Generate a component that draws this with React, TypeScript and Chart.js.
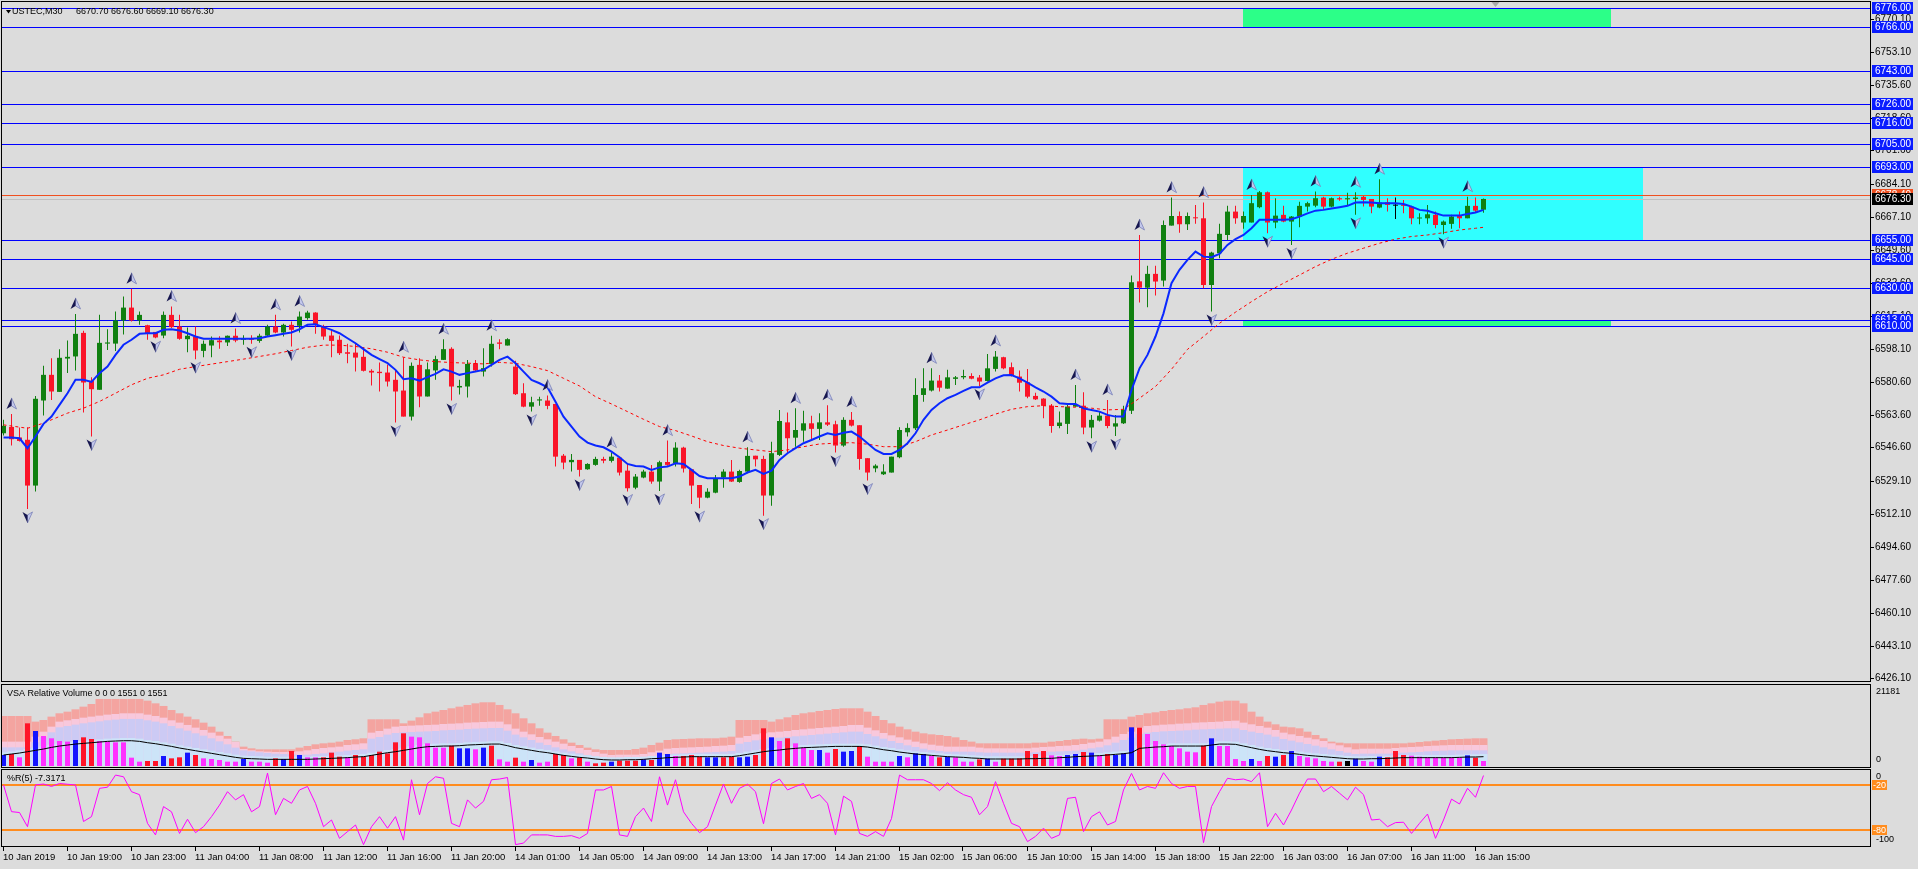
import React, { useEffect, useRef } from "react";
import { Chart, registerables } from "chart.js";

Chart.register(...registerables);

// ---------------- data ----------------
const opens = [6554.0,6557.3,6551.8,6550.6,6526.7,6571.1,6584.5,6575.6,6593.0,6594.1,
6606.4,6581.4,6576.7,6600.8,6600.8,6612.9,6619.6,6612.9,6610.4,6606.9,
6605.0,6615.8,6609.7,6603.1,6604.5,6597.0,6599.8,6602.4,6601.4,6604.9,
6602.8,6603.6,6602.2,6605.0,6609.7,6606.6,6610.6,6610.1,6614.1,6617.0,
6609.7,6605.0,6602.8,6596.3,6596.1,6593.9,6586.6,6586.1,6585.7,6581.9,
6576.3,6562.7,6589.7,6573.2,6586.8,6592.3,6598.1,6577.9,6578.4,6590.6,
6586.2,6590.2,6601.4,6599.8,6588.8,6574.9,6567.9,6571.1,6571.1,6569.3,
6542.3,6538.9,6540.1,6535.2,6537.5,6540.6,6539.6,6541.3,6534.5,6525.6,
6530.9,6534.0,6528.8,6539.0,6538.3,6546.5,6535.2,6527.0,6520.4,6523.0,
6530.9,6534.0,6528.6,6534.0,6542.3,6540.6,6521.5,6542.7,6559.7,6551.7,
6555.4,6559.2,6556.3,6559.7,6558.7,6547.6,6561.0,6558.2,6541.0,6535.7,
6532.6,6533.5,6541.5,6554.5,6556.6,6574.0,6576.3,6581.5,6577.3,6582.4,
6583.2,6583.9,6583.1,6581.3,6587.6,6593.7,6588.5,6583.6,6580.6,6573.5,
6572.1,6568.4,6557.8,6558.9,6567.9,6568.4,6557.0,6560.6,6563.2,6557.5,
6559.2,6565.8,6633.3,6630.0,6637.2,6633.7,6662.4,6667.4,6663.1,6666.7,
6666.2,6631.4,6648.0,6657.5,6669.7,6664.0,6664.0,6672.0,6679.8,6664.0,
6668.0,6664.5,6667.1,6672.3,6672.8,6677.0,6672.3,6676.7,6676.1,6676.3,
6677.4,6676.3,6671.8,6674.6,6672.8,6673.2,6672.3,6666.1,6666.2,6668.0,
6662.7,6663.3,6667.4,6666.2,6672.7,6670.7];

const highs = [6561.0,6564.1,6557.0,6557.2,6573.5,6589.2,6593.2,6597.9,6602.4,6616.3,
6607.5,6583.3,6615.8,6608.3,6617.6,6625.4,6629.4,6617.6,6610.6,6606.9,
6617.6,6620.2,6615.8,6609.2,6609.7,6602.4,6604.5,6604.7,6605.0,6608.7,
6605.2,6605.2,6605.9,6610.6,6615.8,6611.1,6612.3,6617.6,6617.9,6617.2,
6610.6,6608.0,6605.0,6600.7,6600.7,6598.4,6587.4,6590.9,6589.7,6587.1,
6593.7,6590.9,6593.2,6590.9,6594.4,6603.1,6598.9,6581.9,6592.3,6592.3,
6598.4,6604.9,6603.1,6603.6,6591.9,6580.1,6573.1,6573.1,6573.7,6569.3,
6543.2,6543.2,6540.1,6538.3,6541.8,6541.8,6543.9,6541.3,6538.3,6532.8,
6534.9,6537.5,6539.7,6550.2,6549.3,6547.0,6535.2,6527.0,6525.3,6532.2,
6535.2,6540.1,6534.9,6546.7,6542.3,6542.3,6549.6,6566.2,6564.8,6567.0,
6565.8,6563.2,6564.4,6568.6,6560.6,6562.4,6565.1,6558.2,6541.0,6537.8,
6537.8,6541.8,6557.1,6559.2,6582.7,6587.9,6587.9,6584.4,6587.1,6583.9,
6587.1,6585.3,6584.4,6595.4,6597.0,6594.0,6590.9,6586.7,6587.6,6575.2,
6572.3,6569.3,6565.3,6568.8,6579.2,6575.4,6563.6,6565.3,6571.4,6563.6,
6568.4,6636.3,6657.5,6641.4,6641.5,6665.0,6677.0,6669.7,6669.2,6673.2,
6674.4,6648.8,6663.3,6672.7,6672.7,6669.7,6678.4,6680.5,6680.2,6676.7,
6672.7,6667.4,6674.9,6674.9,6680.2,6677.5,6677.0,6677.5,6679.6,6679.8,
6677.9,6676.3,6686.6,6676.7,6677.0,6675.8,6672.7,6668.8,6673.2,6669.7,
6665.0,6668.0,6669.7,6677.5,6677.0,6676.6];

const lows = [6552.8,6547.6,6549.7,6514.5,6523.6,6563.3,6571.4,6575.6,6585.4,6586.8,
6564.8,6552.3,6576.7,6597.5,6597.0,6605.5,6612.3,6610.6,6602.8,6603.6,
6603.6,6608.9,6602.8,6596.3,6592.7,6593.7,6593.7,6598.1,6599.6,6601.5,
6600.2,6600.7,6601.2,6604.5,6606.2,6604.5,6599.3,6606.6,6613.2,6605.9,
6602.8,6593.7,6594.8,6590.6,6586.2,6586.2,6578.9,6575.8,6578.4,6559.6,
6562.7,6560.7,6567.6,6573.2,6581.9,6592.3,6571.1,6574.2,6572.7,6586.2,
6583.6,6588.8,6597.9,6599.8,6574.0,6567.6,6565.3,6568.3,6566.5,6536.6,
6535.2,6534.0,6531.4,6534.9,6537.1,6538.3,6538.7,6531.9,6523.6,6524.8,
6530.5,6527.6,6523.9,6537.0,6536.6,6533.5,6517.1,6514.9,6520.1,6522.7,
6525.6,6528.6,6528.2,6533.1,6536.6,6511.0,6516.2,6542.2,6543.6,6547.0,
6549.6,6550.5,6550.5,6557.8,6543.9,6547.0,6557.5,6534.9,6529.3,6533.6,
6532.2,6533.5,6541.0,6552.3,6555.7,6570.5,6575.8,6575.8,6577.3,6579.2,
6582.2,6582.2,6578.7,6581.0,6586.2,6587.4,6583.6,6575.8,6572.3,6571.4,
6561.8,6554.3,6556.6,6553.6,6567.9,6553.5,6551.4,6560.1,6556.6,6552.6,
6558.9,6564.1,6622.2,6619.8,6625.9,6630.6,6662.4,6658.7,6660.1,6663.3,
6629.7,6617.5,6645.3,6654.9,6663.3,6660.7,6664.0,6671.5,6658.4,6661.0,
6664.1,6652.3,6661.5,6669.7,6672.0,6670.9,6672.0,6675.4,6673.2,6668.0,
6672.3,6668.8,6671.5,6669.7,6665.9,6668.8,6663.1,6663.1,6663.3,6661.0,
6657.9,6660.7,6661.0,6666.2,6669.2,6669.1];

const closes = [6557.9,6550.9,6550.0,6526.7,6572.0,6584.5,6575.8,6593.4,6593.9,6605.9,
6580.5,6577.0,6601.2,6601.4,6612.9,6619.6,6612.9,6615.8,6606.2,6604.0,
6615.8,6609.4,6603.3,6604.9,6597.2,6600.7,6602.6,6601.5,6604.9,6602.4,
6603.6,6602.8,6604.9,6609.7,6606.6,6610.6,6608.0,6614.9,6617.0,6610.6,
6604.5,6602.2,6595.8,6595.5,6593.5,6586.6,6585.7,6585.4,6581.0,6575.8,
6562.7,6589.2,6573.2,6587.4,6592.7,6597.9,6578.4,6578.7,6590.2,6586.8,
6588.0,6600.7,6600.7,6603.1,6574.4,6567.9,6570.2,6571.7,6568.3,6541.8,
6538.7,6540.1,6534.9,6538.0,6540.6,6539.7,6541.8,6533.5,6525.3,6531.4,
6534.0,6528.8,6538.9,6537.5,6546.5,6535.6,6526.7,6520.4,6523.5,6530.5,
6534.0,6528.8,6534.3,6542.2,6540.4,6521.5,6543.6,6560.4,6551.4,6555.7,
6559.2,6556.3,6559.7,6558.5,6547.6,6561.0,6558.0,6540.6,6533.5,6537.1,
6534.0,6541.8,6555.7,6556.8,6574.0,6577.5,6581.5,6577.8,6583.2,6583.2,
6583.9,6582.5,6581.0,6587.9,6594.0,6587.9,6584.1,6580.4,6573.1,6571.7,
6568.3,6557.8,6559.6,6567.9,6568.8,6557.0,6561.0,6563.2,6557.8,6559.2,
6566.2,6632.8,6630.0,6637.2,6633.2,6662.7,6667.4,6663.1,6667.4,6666.2,
6631.4,6648.3,6658.1,6669.7,6666.2,6667.4,6674.1,6679.8,6664.0,6667.6,
6664.5,6667.1,6672.7,6674.1,6676.7,6672.3,6676.7,6676.1,6676.7,6677.0,
6675.8,6672.3,6674.4,6673.2,6672.8,6672.7,6666.2,6666.6,6668.3,6662.7,
6664.5,6667.1,6666.2,6672.7,6670.2,6676.3];

const fastMa = [6551.8,6551.8,6551.4,6546.2,6552.3,6558.9,6562.7,6568.8,6574.9,6581.9,
6581.9,6580.8,6585.4,6588.8,6594.9,6600.2,6602.8,6605.9,6606.2,6606.2,
6608.0,6608.3,6607.6,6606.2,6604.5,6603.3,6603.3,6603.3,6603.3,6603.3,
6603.3,6603.3,6603.6,6604.5,6605.2,6605.9,6606.6,6608.3,6610.6,6610.9,
6609.4,6608.0,6606.2,6603.6,6601.0,6597.9,6594.9,6592.7,6590.6,6587.1,
6582.2,6582.7,6581.5,6583.3,6585.0,6587.4,6586.2,6584.5,6585.4,6586.2,
6587.1,6589.7,6592.3,6594.0,6590.5,6586.2,6581.8,6580.1,6578.0,6570.5,
6562.7,6557.5,6552.3,6549.1,6547.6,6546.7,6544.4,6541.5,6538.0,6536.9,
6536.6,6534.9,6536.2,6536.6,6538.3,6538.0,6534.9,6531.7,6530.5,6530.5,
6530.5,6530.5,6531.4,6533.5,6534.9,6532.8,6534.5,6540.1,6543.6,6546.2,
6548.8,6550.5,6552.3,6554.0,6553.1,6554.3,6554.9,6552.3,6548.8,6545.3,
6543.2,6543.2,6545.3,6548.8,6554.0,6561.0,6566.2,6569.7,6572.3,6574.0,
6576.1,6578.0,6578.0,6580.4,6582.7,6584.3,6584.4,6582.7,6580.4,6578.0,
6575.8,6573.1,6569.7,6569.3,6569.3,6567.0,6566.2,6565.3,6563.6,6562.7,
6562.7,6576.6,6587.9,6594.9,6604.5,6616.6,6632.3,6639.3,6644.5,6648.8,
6646.2,6645.9,6647.6,6652.3,6655.3,6657.5,6661.0,6665.4,6665.4,6665.4,
6665.4,6665.7,6667.1,6668.8,6670.2,6670.6,6671.3,6672.0,6672.7,6674.4,
6674.6,6674.4,6674.1,6674.1,6674.1,6673.7,6672.3,6670.6,6670.1,6668.8,
6667.6,6667.6,6667.6,6668.5,6669.2,6670.6];

// slow (dashed) moving average read at every second bar: [bar, price]
const slowMa = [[0,6558.4],[3,6556.6],[5,6559.3],[8,6564.5],[10,6567.1],[12,6570.6],[14,6574.9],[16,6579.3],[18,6582.7],[20,6584.5],
[22,6587.4],[24,6588.8],[26,6590.1],[28,6591.4],[30,6592.7],[32,6594.1],[34,6595.5],[36,6597.2],[38,6598.9],[40,6600.0],
[42,6600.0],[44,6599.3],[46,6598.1],[48,6596.3],[50,6593.7],[52,6592.3],[54,6591.4],[56,6590.9],[58,6590.6],[60,6590.2],
[62,6591.0],[64,6590.5],[66,6588.8],[68,6586.7],[70,6582.7],[72,6578.7],[74,6573.1],[76,6569.3],[78,6565.3],[80,6561.3],
[82,6557.5],[84,6555.4],[86,6552.6],[88,6549.6],[90,6547.6],[92,6546.2],[94,6545.3],[96,6544.4],[98,6545.3],[100,6547.0],
[102,6548.4],[104,6548.8],[106,6549.1],[108,6548.3],[110,6547.0],[112,6547.0],[114,6549.6],[116,6553.1],[118,6555.7],[120,6558.4],
[122,6561.0],[124,6564.0],[126,6566.5],[128,6567.9],[130,6568.4],[132,6567.9],[134,6567.6],[136,6567.1],[138,6566.2],[140,6566.5],
[142,6572.3],[144,6578.4],[146,6587.4],[148,6597.8],[150,6604.5],[152,6611.4],[154,6617.2],[156,6622.7],[158,6627.9],[160,6632.3],
[162,6636.6],[164,6641.0],[166,6644.8],[168,6648.0],[170,6650.6],[172,6653.2],[174,6655.3],[176,6656.7],[178,6657.5],[180,6658.7],
[182,6660.1],[184,6661.0],[185,6661.5]];

const fractalUpBars = [1,9,16,21,29,34,37,50,55,61,68,76,83,93,99,103,106,116,124,134,138,142,146,150,156,164,169,172,183];
const fractalDownBars = [3,11,19,24,31,36,49,56,66,72,78,82,87,95,104,108,122,136,139,151,158,161,169,180];

const hLevels = [6776, 6766, 6743, 6726, 6716, 6705, 6693, 6655, 6645, 6630, 6613, 6610];
const bidPrice = 6676.3;
const askPrice = 6678.4;
// zones: [fromBar, toBar, upperPrice, lowerPrice]
const zoneGreenTop = [155, 201, 6776, 6766];
const zoneCyan = [155, 205, 6693, 6655];
const zoneGreenBottom = [155, 201, 6613, 6610];

const priceTicks = [6770.1,6753.1,6735.6,6718.6,6701.6,6684.1,6667.1,6649.6,6632.6,6615.1,6598.1,6580.6,6563.6,6546.6,6529.1,6512.1,6494.6,6477.6,6460.1,6443.1,6426.1];

const timeTickBars = [0,8,16,24,32,40,48,56,64,72,80,88,96,104,112,120,128,136,144,152,160,168,176,184];
const timeLabels = ["10 Jan 2019","10 Jan 19:00","10 Jan 23:00","11 Jan 04:00","11 Jan 08:00","11 Jan 12:00","11 Jan 16:00","11 Jan 20:00",
"14 Jan 01:00","14 Jan 05:00","14 Jan 09:00","14 Jan 13:00","14 Jan 17:00","14 Jan 21:00","15 Jan 02:00","15 Jan 06:00",
"15 Jan 10:00","15 Jan 14:00","15 Jan 18:00","15 Jan 22:00","16 Jan 03:00","16 Jan 07:00","16 Jan 11:00","16 Jan 15:00"];

const volumes = [2880,3140,2270,11160,9160,7850,7240,6540,6370,6800,
7500,7060,6540,6370,6190,6190,2180,1130,1310,1310,
2620,2000,2270,3490,2880,2000,1830,1570,1130,1130,
1830,1130,1130,870,2000,1830,3920,2880,2270,2270,
2270,3490,2440,2270,2880,2440,2880,3750,3310,6190,
8550,7670,7500,5930,4800,4800,5320,4620,4620,4360,
4800,5320,1740,1130,2180,1130,1570,870,1130,3140,
2880,2000,2270,1130,700,870,1130,1400,1400,1400,
1740,1570,3490,3140,2620,2620,2880,2440,2270,2270,
2270,2440,2270,2440,2880,9850,7500,6540,7240,5930,
4800,4190,4190,3490,4450,3750,3920,5230,2440,1130,
1130,1130,2620,2270,3310,3140,2620,2270,2440,2270,
1130,1130,1740,1920,1130,1920,1920,2000,3920,3140,
3920,2790,2620,2880,3140,3660,3490,2620,3140,2880,
3310,10120,10030,8370,6540,5670,5230,4620,3750,3580,
5320,7240,5230,5230,1830,1310,1830,1310,2620,2440,
2880,3920,2620,2270,2000,1310,1130,1130,1310,1920,
1310,1130,2440,2270,3920,2880,2700,2440,2270,2180,
2180,2270,2180,2790,2180,1310];

const volKinds = ("brmrbmmmmb" + "rrmmmmmmrr" + "brrbrmmmmm" + "bmmmrbrbmm" + "rrrmrrrrrr" +
  "rmmmmmrbbm" + "brmmrmbmmr" + "rmrmrrbrrr" + "brbbmrrrbb" + "rrbbrrbmrm" +
  "mmbmrbbrmm" + "mmbmbbmrbm" + "mmrbmrrrrr" + "rmmbbrbmrb" + "bbrmmmmmmm" +
  "rbmmmmbmrb" + "rbmmmmmrkb" + "mmbrrrmmmm" + "mmmbrm").split("");

const volAvg = [2870,3130,3390,3740,4090,4440,4870,5220,5480,5740,
5920,6090,6260,6440,6530,6610,6610,6440,6090,5830,
5480,5130,4700,4350,4000,3650,3310,2960,2610,2260,
2000,1910,1830,1740,1740,1740,1740,1740,1740,1830,
1910,2000,2090,2180,2350,2440,2780,3130,3480,3740,
4090,4440,4790,5050,5130,5220,5220,5310,5480,5570,
5660,5740,5740,5310,4790,4440,4090,3740,3480,3130,
2780,2520,2260,2090,1830,1650,1570,1570,1650,1650,
1740,1910,2000,2180,2260,2350,2440,2440,2440,2440,
2440,2440,2700,3050,3390,3740,4000,4180,4440,4610,
4790,4870,4960,5050,5130,5130,5130,5130,4960,4610,
4260,4000,3650,3390,3130,2960,2780,2610,2440,2350,
2260,2090,2000,1830,1830,1830,1830,1830,1910,1910,
2000,2000,2180,2260,2440,2520,2610,2700,2870,3050,
3220,3480,4610,4790,4960,5050,5220,5220,5220,5220,
5220,5480,5740,5740,5660,5220,4790,4350,4000,3740,
3480,3310,3050,2780,2610,2440,2260,2090,1910,1830,
1830,1910,1910,2000,2090,2180,2180,2180,2180,2180,
2180,2180,2260,2350,2350,2440];

const bandCyan = [3570,3830,4090,4440,4790,5140,5570,5920,6180,6440,
6620,6790,6960,7140,7230,7310,7310,7140,6790,6530,
6180,5830,5400,5050,4700,4350,4010,3660,3310,2960,
2700,2610,2530,2440,2440,2440,2440,2440,2440,2530,
2610,2700,2790,2880,3050,3140,3480,3830,4180,4440,
4790,5140,5490,5750,5830,5920,5920,6010,6180,6270,
6360,6440,6440,6010,5490,5140,4790,4440,4180,3830,
3480,3220,2960,2790,2530,2350,2270,2270,2350,2350,
2440,2610,2700,2880,2960,3050,3140,3140,3140,3140,
3140,3140,3400,3750,4090,4440,4700,4880,5140,5310,
5490,5570,5660,5750,5830,5830,5830,5830,5660,5310,
4960,4700,4350,4090,3830,3660,3480,3310,3140,3050,
2960,2790,2700,2530,2530,2530,2530,2530,2610,2610,
2700,2700,2880,2960,3140,3220,3310,3400,3570,3750,
3920,4180,5310,5490,5660,5750,5920,5920,5920,5920,
5920,6180,6440,6440,6360,5920,5490,5050,4700,4440,
4180,4010,3750,3480,3310,3140,2960,2790,2610,2530,
2530,2610,2610,2700,2790,2880,2880,2880,2880,2880,
2880,2880,2960,3050,3050,3140];

const bandLavender = [4880,4880,4880,4880,6190,7500,8810,10120,10460,10810,
11160,11420,11680,11950,12120,12300,12300,12300,11950,11600,
11160,10460,9850,9240,8550,7940,7240,6450,5670,4800,
4100,3840,3580,3400,3230,3140,3050,2960,2960,3140,
3310,3580,3750,4010,4190,4360,7150,7590,8200,8630,
8810,8890,8980,9070,9160,9330,9420,9500,9680,9770,
9850,9940,9940,9240,8200,7500,6800,6100,5490,4880,
4360,3840,3310,2880,2440,2090,1830,1920,1920,1920,
2010,2350,2700,3140,3230,3310,3400,3490,3580,3660,
3750,3920,5840,6280,6710,6980,7240,7410,7590,7760,
7940,8110,8280,8460,8630,8810,8980,8980,8370,7760,
7150,6540,6020,5410,4970,4530,4190,3920,3750,3750,
3750,3750,3580,3490,3490,3490,3490,3490,3490,3580,
3660,3750,3840,3920,4010,4270,4620,4880,5410,6100,
6800,7410,8370,8720,8890,9070,9160,9240,9330,9500,
9590,9680,9770,9850,9850,9420,8980,8630,8200,7670,
7060,6630,6190,5760,5320,4880,4360,3920,3490,3140,
3230,3230,3230,3230,3400,3490,3580,3660,3840,3920,
4010,4100,4100,4100,4100,4100];

const bandPink = [6370,6370,6370,6370,7670,8980,10290,11600,11950,12300,
12640,12910,13170,13430,13600,13780,13780,13780,13430,13080,
12640,11950,11340,10730,10030,9420,8720,7940,7150,6280,
4450,4100,3840,3750,3660,3660,3660,3840,4100,4450,
4710,4880,5060,5490,5670,5930,8720,9160,9770,10290,
10460,10550,10640,10730,10810,10990,11070,11160,11340,11420,
11510,11600,11600,10900,9770,8980,8280,7590,6980,6370,
5840,5230,4710,4190,3660,3230,2880,2960,2960,2960,
3140,3580,4010,4530,4710,4800,4880,4970,5060,5230,
5320,5490,7410,7850,8280,8550,8810,8980,9160,9420,
9590,9770,9940,10120,10290,10460,10730,10730,10030,9330,
8630,8020,7500,6890,6370,5930,5580,5320,5060,5060,
5060,5060,4800,4620,4620,4620,4620,4620,4620,4800,
4970,5060,5230,5320,5490,5760,6100,6370,6980,7670,
8370,8980,10030,10460,10640,10810,10900,11070,11160,11340,
11420,11510,11600,11770,11860,11340,10900,10460,10030,9420,
8720,8280,7850,7410,6980,6540,5930,5410,4880,4360,
4530,4530,4530,4530,4710,4880,4970,5060,5230,5320,
5410,5490,5490,5490,5490,5490];

const bandSalmon = [13080,13080,13080,13080,11600,12030,12910,13780,14210,14820,
15520,16220,17530,17530,17530,17530,17530,17530,17090,16390,
15700,14650,13780,12910,12210,11340,10290,8980,7850,6370,
5060,4620,4360,4360,4360,4360,4360,4800,5230,5670,
5930,6100,6370,6800,6980,7240,12210,12210,12210,12210,
11160,11860,12730,13780,14210,14650,15090,15520,15960,16390,
16660,16660,15960,14820,13780,12470,11160,9850,8720,7850,
6980,6100,5490,4800,4360,4190,4190,4190,4190,4450,
4800,5490,6100,6800,6980,7060,7150,7240,7240,7240,
7410,7670,12030,12030,12030,12030,11600,12210,12730,13340,
13780,14040,14390,14650,14910,15090,15090,15090,14210,13080,
12030,11160,10290,9590,8980,8550,8280,8110,7850,7500,
6800,6370,5930,5930,5930,5930,5930,5930,5930,6100,
6100,6370,6540,6800,6980,7150,6980,7150,12210,12210,
12210,12910,13340,13780,14040,14390,14650,14820,15090,15350,
15960,16390,16830,17090,17090,16390,14210,12910,11600,10900,
10290,10120,9850,8980,8110,7240,6370,6100,5930,5930,
5930,5930,5930,5930,5930,5930,6100,6280,6450,6630,
6800,6980,7060,7150,7240,7240];

const volMaxLabel = 21181;

const wpr = [-20,-55.8,-57,-76,-20,-18.7,-22,-18,-19,-20,
-69,-62.5,-24.5,-23,-6.7,-9,-29,-33,-71.5,-87,
-49,-56,-85,-66,-84,-76,-62.5,-47,-29,-40,
-33,-56,-49,-4,-60,-38,-44.6,-26.7,-22,-44.6,
-76,-67,-91.6,-82.6,-73.7,-100,-76,-62.5,-78,-62.5,
-94,-13,-60,-18,-9,-11,-71.5,-76,-40,-51,
-42,-13,-12,-10,-100,-98,-87,-87,-87,-89,
-89,-88,-91.6,-85,-26.7,-26.7,-22,-87,-89,-62.5,
-51,-69,-9,-47,-13,-56,-71.5,-84,-76,-47,
-18.7,-44.6,-24.5,-19,-29,-72,-18,-12,-26.7,-22,
-18,-38,-33,-44.6,-87,-35,-42,-85,-89,-82.6,
-89,-65,-6.7,-13,-13,-13,-18,-27.6,-17,-26.7,
-33,-36.5,-60,-49,-15.5,-44.6,-71.5,-76,-96,-89,
-78,-91.6,-87,-38,-36.5,-82.6,-62.5,-56,-73.7,-69,
-26.7,-4.5,-26.7,-22,-24.5,-3.6,-18,-24.5,-22,-22,
-97.4,-49,-29,-11,-13,-12,-15.5,-3.6,-76,-58,
-73.7,-53.6,-31,-12,-12,-29,-22,-31,-40,-23,
-33,-67,-66,-76,-70.5,-70,-85,-71.5,-59,-91.6,
-67,-39,-45.5,-24.5,-36.5,-7.3171];
const wprLevels = [-20, -80];

// ---------------- styling / layout ----------------
const W = 1918;
const H = 869;
const BG = "#dcdcdc";
const UI_FONT = '"Liberation Sans", Arial, sans-serif';
const BULL = "#108010";
const BEAR = "#fa1428";
const X_MIN = -0.1875;
const X_MAX = X_MIN + 1868 / 8;
const AXIS_W = 48;

const bars = opens.map((_, i) => i);
const candleColor = (i: number) => (closes[i] > opens[i] ? BULL : closes[i] < opens[i] ? BEAR : "#000000");
const volColorMap: Record<string, string> = { b: "#1414ff", r: "#ff1428", m: "#ff30ff", k: "#000000" };

function xScaleOpts() {
  return {
    type: "linear",
    display: false,
    min: X_MIN,
    max: X_MAX,
    offset: false,
    afterBuildTicks: (s: any) => {
      s.ticks = timeTickBars.map((v) => ({ value: v }));
    },
  };
}

function drawFrame(ctx: CanvasRenderingContext2D, a: any) {
  ctx.save();
  ctx.strokeStyle = "#000";
  ctx.lineWidth = 1;
  ctx.strokeRect(a.left - 0.5, a.top - 0.5, a.right - a.left + 1, a.bottom - a.top + 1);
  ctx.restore();
}

function drawFractal(ctx: CanvasRenderingContext2D, cx: number, cy: number, up: boolean) {
  ctx.save();
  ctx.translate(cx, cy);
  ctx.scale(1, up ? 1 : -1);
  ctx.beginPath();
  ctx.moveTo(0, -6);
  ctx.lineTo(5, 5);
  ctx.lineTo(0, 2);
  ctx.closePath();
  ctx.fillStyle = "#c4c8ec";
  ctx.fill();
  ctx.strokeStyle = "#7880b8";
  ctx.lineWidth = 0.8;
  ctx.stroke();
  ctx.beginPath();
  ctx.moveTo(0, -6);
  ctx.lineTo(-5, 5);
  ctx.lineTo(0, 2);
  ctx.closePath();
  ctx.fillStyle = "#16164f";
  ctx.fill();
  ctx.restore();
}

function labelBox(ctx: CanvasRenderingContext2D, x: number, py: number, text: string, bg: string, fg: string, w: number) {
  ctx.fillStyle = bg;
  ctx.fillRect(x, py - 6, w, 12);
  ctx.fillStyle = fg;
  ctx.fillText(text, x + 3, py + 0.5);
}

const mainPlugin = {
  id: "mainDeco",
  beforeDatasetsDraw(chart: any) {
    const { ctx, chartArea: a, scales } = chart;
    const x = scales.x;
    const y = scales.y;
    ctx.save();
    ctx.beginPath();
    ctx.rect(a.left, a.top, a.right - a.left, a.bottom - a.top);
    ctx.clip();
    const zone = (z: number[], color: string) => {
      const x0 = Math.floor(x.getPixelForValue(z[0]));
      const x1 = Math.floor(x.getPixelForValue(z[1]));
      const y0 = Math.round(y.getPixelForValue(z[2]));
      const y1 = Math.round(y.getPixelForValue(z[3]));
      ctx.fillStyle = color;
      ctx.fillRect(x0, y0, x1 - x0, y1 - y0);
    };
    zone(zoneGreenTop, "#2cff88");
    zone(zoneCyan, "#30ffff");
    zone(zoneGreenBottom, "#2cff88");
    ctx.lineWidth = 1;
    const hl = (v: number, c: string) => {
      const py = Math.round(y.getPixelForValue(v)) + 0.5;
      ctx.strokeStyle = c;
      ctx.beginPath();
      ctx.moveTo(a.left, py);
      ctx.lineTo(a.right, py);
      ctx.stroke();
    };
    hl(bidPrice, "#c0c0c0");
    hl(askPrice, "#f05020");
    hLevels.forEach((v) => hl(v, "#0000ff"));
    ctx.restore();
  },
  afterDatasetsDraw(chart: any) {
    const { ctx, chartArea: a, scales } = chart;
    const x = scales.x;
    const y = scales.y;
    ctx.save();
    ctx.beginPath();
    ctx.rect(a.left, a.top, a.right - a.left, a.bottom - a.top);
    ctx.clip();
    fractalUpBars.forEach((b) => drawFractal(ctx, x.getPixelForValue(b), y.getPixelForValue(highs[b]) - 10, true));
    fractalDownBars.forEach((b) => drawFractal(ctx, x.getPixelForValue(b), y.getPixelForValue(lows[b]) + 8, false));
    ctx.restore();
  },
  afterDraw(chart: any) {
    const { ctx, chartArea: a, scales } = chart;
    const y = scales.y;
    drawFrame(ctx, a);
    ctx.save();
    ctx.font = "10px " + UI_FONT;
    ctx.textAlign = "left";
    ctx.textBaseline = "middle";
    ctx.strokeStyle = "#000";
    ctx.lineWidth = 1;
    ctx.fillStyle = "#000";
    priceTicks.forEach((t) => {
      const py = Math.round(y.getPixelForValue(t)) + 0.5;
      ctx.beginPath();
      ctx.moveTo(a.right, py);
      ctx.lineTo(a.right + 4, py);
      ctx.stroke();
      ctx.fillText(t.toFixed(2), a.right + 5, py);
    });
    hLevels.forEach((v) => labelBox(ctx, a.right + 2, Math.round(y.getPixelForValue(v)), v.toFixed(2), "#0a1cff", "#ffffff", 41));
    labelBox(ctx, a.right + 2, Math.round(y.getPixelForValue(askPrice)), askPrice.toFixed(2), "#f05020", "#ffffff", 41);
    labelBox(ctx, a.right + 2, Math.round(y.getPixelForValue(bidPrice)), bidPrice.toFixed(2), "#000000", "#ffffff", 41);
    // header
    ctx.fillStyle = "#000";
    ctx.beginPath();
    ctx.moveTo(6, 10);
    ctx.lineTo(11, 10);
    ctx.lineTo(8.5, 13.5);
    ctx.closePath();
    ctx.fill();
    ctx.font = "9px " + UI_FONT;
    ctx.fillText("USTEC,M30", 12, 12);
    ctx.fillText(
      [opens[opens.length - 1], highs[highs.length - 1], lows[lows.length - 1], closes[closes.length - 1]].map((v) => v.toFixed(2)).join(" "),
      76,
      12
    );
    // chart shift marker
    const sx = scales.x.getPixelForValue(186.5);
    ctx.fillStyle = "#a8a8a8";
    ctx.beginPath();
    ctx.moveTo(sx - 4, a.top);
    ctx.lineTo(sx + 4, a.top);
    ctx.lineTo(sx, a.top + 5);
    ctx.closePath();
    ctx.fill();
    ctx.restore();
  },
};

const volPlugin = {
  id: "volDeco",
  afterDraw(chart: any) {
    const { ctx, chartArea: a, scales } = chart;
    const y = scales.y;
    drawFrame(ctx, a);
    ctx.save();
    ctx.font = "9px " + UI_FONT;
    ctx.textBaseline = "middle";
    ctx.textAlign = "left";
    ctx.fillStyle = "#000";
    ctx.fillText("VSA Relative Volume 0 0 0 1551 0 1551", 7, a.top + 9);
    ctx.fillText(String(volMaxLabel), a.right + 6, y.getPixelForValue(volMaxLabel) + 7);
    ctx.fillText("0", a.right + 6, y.getPixelForValue(0) - 6);
    ctx.restore();
  },
};

const wprPlugin = {
  id: "wprDeco",
  beforeDatasetsDraw(chart: any) {
    const { ctx, chartArea: a, scales } = chart;
    const y = scales.y;
    ctx.save();
    ctx.strokeStyle = "#ff8c1e";
    ctx.lineWidth = 2;
    wprLevels.forEach((v) => {
      const py = Math.round(y.getPixelForValue(v));
      ctx.beginPath();
      ctx.moveTo(a.left, py);
      ctx.lineTo(a.right, py);
      ctx.stroke();
    });
    ctx.restore();
  },
  afterDraw(chart: any) {
    const { ctx, chartArea: a, scales } = chart;
    const x = scales.x;
    const y = scales.y;
    drawFrame(ctx, a);
    ctx.save();
    ctx.font = "9px " + UI_FONT;
    ctx.textBaseline = "middle";
    ctx.textAlign = "left";
    ctx.fillStyle = "#000";
    ctx.fillText("%R(5) " + wpr[wpr.length - 1].toFixed(4), 7, a.top + 9);
    ctx.fillText("0", a.right + 6, y.getPixelForValue(0) + 6);
    ctx.fillText("-100", a.right + 6, y.getPixelForValue(-100) - 5);
    wprLevels.forEach((v) => {
      const py = Math.round(y.getPixelForValue(v));
      ctx.fillStyle = "#ff8c1e";
      ctx.fillRect(a.right + 2, py - 5, 15, 10);
      ctx.fillStyle = "#ffffff";
      ctx.fillText(String(v), a.right + 3, py + 0.5);
    });
    // time axis
    ctx.strokeStyle = "#000";
    ctx.lineWidth = 1;
    ctx.fillStyle = "#000";
    ctx.font = "9.5px " + UI_FONT;
    timeTickBars.forEach((b, k) => {
      const px = Math.round(x.getPixelForValue(b)) - 0.5;
      ctx.beginPath();
      ctx.moveTo(px, a.bottom + 1);
      ctx.lineTo(px, a.bottom + 5);
      ctx.stroke();
      ctx.fillText(timeLabels[k], px - 0.5, a.bottom + 11);
    });
    ctx.restore();
  },
};

function baseOptions(yMin: number, yMax: number, padding: any) {
  return {
    responsive: false,
    animation: false,
    devicePixelRatio: 1,
    events: [],
    layout: { padding },
    plugins: { legend: { display: false }, tooltip: { enabled: false } },
    scales: {
      x: xScaleOpts(),
      y: { type: "linear", display: false, min: yMin, max: yMax },
    },
  };
}

function barDs(data: any[], color: any, width: number, order: number) {
  return {
    type: "bar",
    data,
    backgroundColor: color,
    borderWidth: 0,
    grouped: false,
    barPercentage: 1,
    categoryPercentage: 1,
    maxBarThickness: width,
    inflateAmount: 0,
    order,
  };
}

export default function App() {
  const mainRef = useRef<HTMLCanvasElement>(null);
  const volRef = useRef<HTMLCanvasElement>(null);
  const wprRef = useRef<HTMLCanvasElement>(null);

  useEffect(() => {
    document.body.style.margin = "0";
    document.body.style.background = BG;
    const charts: Chart[] = [];

    const candleColors = bars.map(candleColor);
    const main = new Chart(mainRef.current as HTMLCanvasElement, {
      type: "bar",
      data: {
        datasets: [
          barDs(bars.map((i) => ({ x: i, y: [lows[i], highs[i]] })), candleColors, 1, 6),
          { ...barDs(bars.map((i) => ({ x: i, y: [opens[i], closes[i]] })), candleColors, 5, 5), minBarLength: 1 },
          {
            type: "line",
            data: slowMa.map((p) => ({ x: p[0], y: p[1] })),
            borderColor: "#ff0000",
            borderWidth: 1,
            borderDash: [3, 3],
            pointRadius: 0,
            tension: 0,
            order: 3,
          },
          {
            type: "line",
            data: fastMa.map((v, i) => ({ x: i, y: v })),
            borderColor: "#0a28ff",
            borderWidth: 2,
            pointRadius: 0,
            tension: 0,
            order: 2,
          },
        ],
      } as any,
      options: baseOptions(6424.7, 6779.1, { left: 2, right: AXIS_W, top: 2, bottom: 2 }) as any,
      plugins: [mainPlugin] as any,
    });
    charts.push(main);

    const vol = new Chart(volRef.current as HTMLCanvasElement, {
      type: "bar",
      data: {
        datasets: [
          barDs(bars.map((i) => ({ x: i, y: bandSalmon[i] })), "#f4a4a0", 8, 10),
          barDs(bars.map((i) => ({ x: i, y: bandPink[i] })), "#f8c8dc", 8, 9),
          barDs(bars.map((i) => ({ x: i, y: bandLavender[i] })), "#cccaf4", 8, 8),
          barDs(bars.map((i) => ({ x: i, y: bandCyan[i] })), "#cce4f8", 8, 7),
          barDs(bars.map((i) => ({ x: i, y: volumes[i] })), volKinds.map((k) => volColorMap[k]), 5, 3),
          {
            type: "line",
            data: volAvg.map((v, i) => ({ x: i, y: v })),
            borderColor: "#000000",
            borderWidth: 1,
            pointRadius: 0,
            tension: 0,
            order: 1,
          },
        ],
      } as any,
      options: baseOptions(-261.5, volMaxLabel, { left: 2, right: AXIS_W, top: 2, bottom: 1 }) as any,
      plugins: [volPlugin] as any,
    });
    charts.push(vol);

    const wprChart = new Chart(wprRef.current as HTMLCanvasElement, {
      type: "line",
      data: {
        datasets: [
          {
            type: "line",
            data: wpr.map((v, i) => ({ x: i, y: v })),
            borderColor: "#ff00ff",
            borderWidth: 1,
            pointRadius: 0,
            tension: 0,
          },
        ],
      } as any,
      options: baseOptions(-101.9, 0.1, { left: 2, right: AXIS_W, top: 2, bottom: 23 }) as any,
      plugins: [wprPlugin] as any,
    });
    charts.push(wprChart);

    return () => charts.forEach((c) => c.destroy());
  }, []);

  const cs = (top: number, h: number): React.CSSProperties => ({ position: "absolute", left: 0, top, width: W, height: h, display: "block" });
  return (
    <div style={{ position: "relative", width: W, height: H, background: BG, overflow: "hidden" }}>
      <canvas ref={mainRef} width={W} height={683} style={cs(0, 683)} />
      <canvas ref={volRef} width={W} height={85} style={cs(683, 85)} />
      <canvas ref={wprRef} width={W} height={101} style={cs(768, 101)} />
    </div>
  );
}
